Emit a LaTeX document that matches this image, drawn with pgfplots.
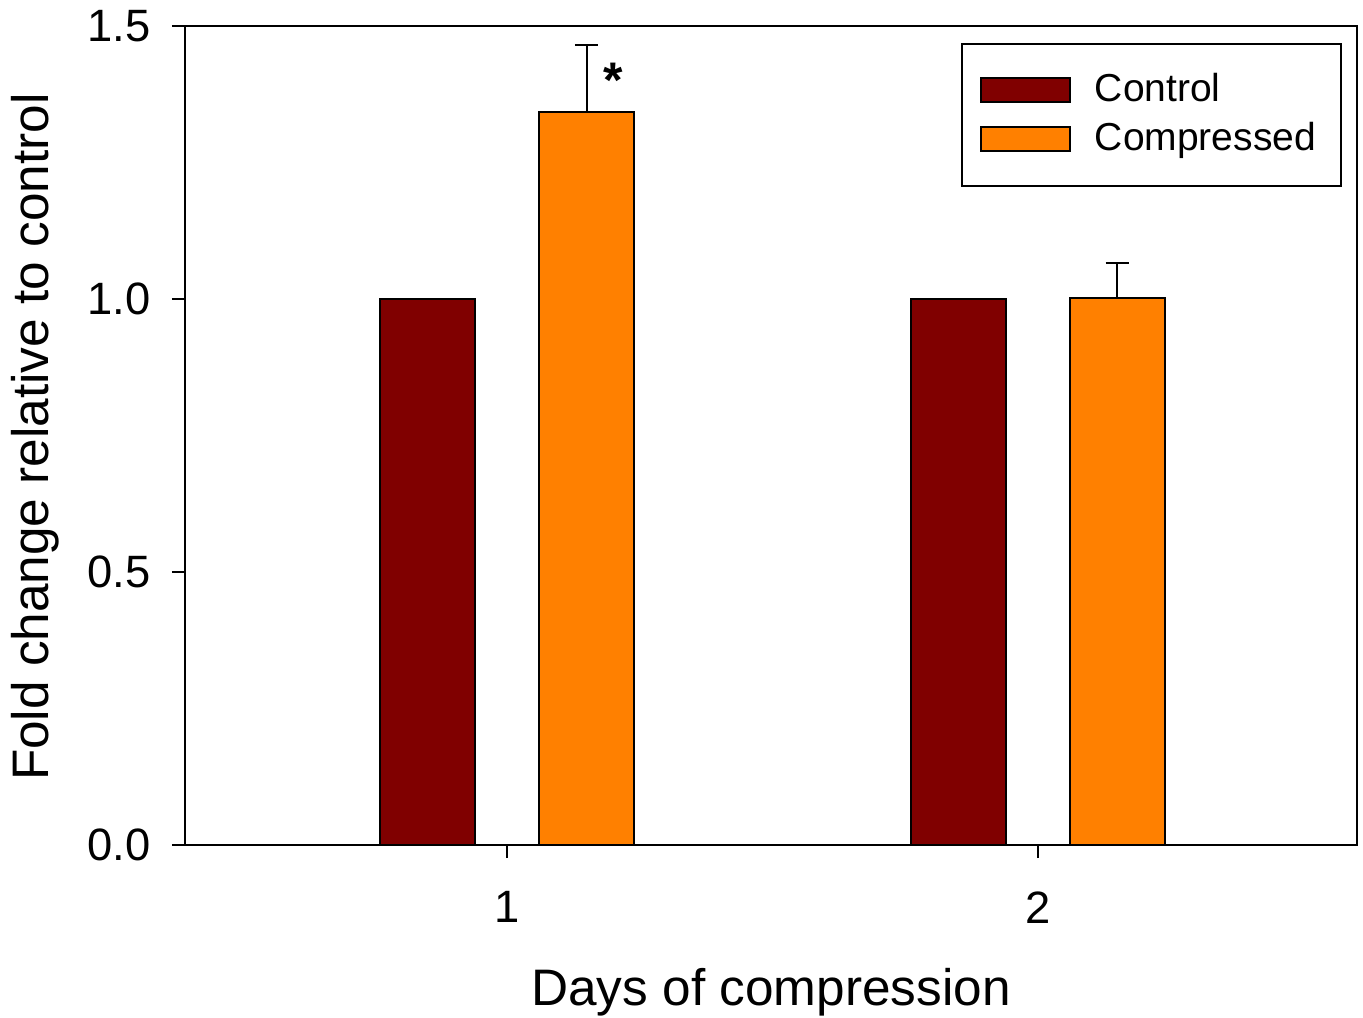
\documentclass[border=0pt]{standalone}
\usepackage{fontspec}
\setmainfont{Liberation Sans}
\usepackage{pgfplots}
\pgfplotsset{compat=1.18}
\definecolor{ctrl}{HTML}{800000}
\definecolor{comp}{HTML}{FF8000}
\begin{document}
\begin{tikzpicture}
\begin{axis}[
  scale only axis,
  width=351.6pt, height=245.7pt,
  xmin=0.393, xmax=2.602,
  ymin=0, ymax=1.5,
  xtick={1,2}, ytick={0,0.5,1.0,1.5},
  yticklabel style={/pgf/number format/fixed,/pgf/number format/fixed zerofill,/pgf/number format/precision=1, xshift=-3pt},
  xticklabel style={yshift=-6.6pt},
  /pgf/number format/assume math mode=true,
  tick align=outside, major tick length=3.9pt,
  xtick pos=bottom, ytick pos=left,
  axis line style={line width=0.6pt},
  every tick/.style={black, line width=0.6pt},
  tick label style={font=\fontsize{13.6}{16}\selectfont},
  label style={font=\fontsize{15.4}{18}\selectfont},
  xlabel={Days of compression},
  ylabel={Fold change relative to control},
  xlabel style={at={(axis description cs:0.5,-0.1795)}, anchor=center},
  ylabel style={at={(axis description cs:-0.128,0.498)}, anchor=center},
  ybar, bar width=28.5pt, bar shift=0pt,
  legend style={at={(rel axis cs:1,1)}, anchor=north east, xshift=-4.5pt, yshift=-5.1pt,
    draw=black, line width=0.6pt, font=\fontsize{11.7}{14}\selectfont,
    inner xsep=5.5pt, inner ysep=6.9pt, row sep=0.7pt,
    legend cell align=left},
  legend image code/.code={\draw[#1, line width=0.6pt] (0pt,-3.6pt) rectangle (26.7pt,3.6pt); \path (31.9pt,0pt);},
  clip=false,
]
\addplot[fill=ctrl, draw=black, line width=0.6pt] coordinates {(0.85,1.0) (1.85,1.0)};
\addlegendentry{Control}
\addplot[fill=comp, draw=black, line width=0.6pt,
  error bars/.cd, y dir=plus, y explicit,
  error bar style={line width=0.6pt, black},
  error mark options={rotate=90, mark size=3.5pt, line width=0.6pt, black}]
  coordinates {(1.15,1.342) +- (0,0.123) (2.15,1.002) +- (0,0.064)};
\addlegendentry{Compressed}
\node[anchor=north, inner sep=0pt, font=\fontsize{15}{18}\selectfont\bfseries] at (axis cs:1.201,1.434) {*};
\coordinate (bl) at (rel axis cs:0,0);
\coordinate (tr) at (rel axis cs:1,1);
\end{axis}
\pgfresetboundingbox
\path[use as bounding box] ([shift={(-55.5pt,-51.6pt)}]bl) rectangle ([shift={(1.8pt,7.8pt)}]tr);
\end{tikzpicture}
\end{document}
